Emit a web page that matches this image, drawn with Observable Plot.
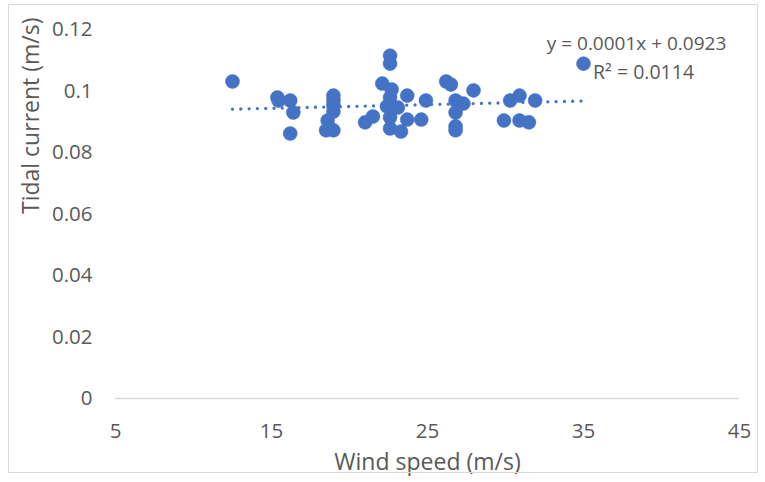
<!DOCTYPE html>
<html>
<head>
<meta charset="utf-8">
<script src="https://cdn.jsdelivr.net/npm/d3@7"></script>
<script src="https://cdn.jsdelivr.net/npm/@observablehq/plot@0.6"></script>
<style>
  html, body { margin: 0; padding: 0; background: #fff; }
  #wrap { position: relative; width: 765px; height: 482px; overflow: hidden; }
  #border { position: absolute; left: 8px; top: 4px; width: 748px; height: 467px; border: 1px solid #d9d9d9; pointer-events: none; }
  svg { font-family: "Open Sans", sans-serif; }
</style>
</head>
<body>
<div id="wrap"><div id="border"></div></div>
<script>
const windSpeed = [12.5, 15.38, 15.45, 16.2, 16.4, 16.2, 18.97, 18.97, 18.97, 18.97, 18.6, 18.5, 18.97,
  21.0, 21.5, 22.1, 22.6, 22.6, 22.7, 22.6, 22.4, 22.6, 22.6, 22.6, 23.1, 23.3, 23.7, 23.7, 24.6, 24.9,
  26.2, 26.5, 26.8, 27.3, 26.8, 26.8, 26.8, 27.95, 29.9, 30.3, 30.9, 30.9, 31.5, 31.9, 35.0];
const tidalCurrent = [0.1031, 0.0979, 0.0969, 0.0969, 0.0930, 0.0862, 0.0985, 0.0969, 0.0953, 0.0933, 0.0904, 0.0872, 0.0872,
  0.0898, 0.0917, 0.1024, 0.1115, 0.1089, 0.1005, 0.0979, 0.0950, 0.0946, 0.0914, 0.0878, 0.0946, 0.0868, 0.0985, 0.0907, 0.0907, 0.0969,
  0.1031, 0.1021, 0.0969, 0.0959, 0.0930, 0.0885, 0.0872, 0.1002, 0.0904, 0.0969, 0.0985, 0.0904, 0.0898, 0.0969, 0.1089];
const xTicks = [5, 15, 25, 35, 45];
const yTicks = [0, 0.02, 0.04, 0.06, 0.08, 0.1, 0.12];
const xTitle = "Wind speed (m/s)";
const yTitle = "Tidal current (m/s)";
const equationText = "y = 0.0001x + 0.0923";
const r2Text = "R² = 0.0114";

const points = windSpeed.map((w, i) => ({wind: w, tide: tidalCurrent[i]}));
const blue = "#4472C4";
const grey = "#595959";

const chart = Plot.plot({
  width: 765,
  height: 482,
  marginLeft: 115,
  marginRight: 26,
  marginTop: 29,
  marginBottom: 84,
  style: {fontFamily: "'Open Sans', sans-serif", background: "transparent"},
  x: {domain: [5, 45], ticks: xTicks},
  y: {domain: [0, 0.12], ticks: yTicks},
  marks: [
    Plot.ruleY([0], {stroke: "#d9d9d9", strokeWidth: 1.3}),
    Plot.axisX({ticks: xTicks, tickSize: 0, tickPadding: 25, fontSize: 20.5, color: grey, label: null, tickFormat: d => String(d)}),
    Plot.axisY({ticks: yTicks, tickSize: 0, tickPadding: 23, fontSize: 20.5, color: grey, label: null, tickFormat: d => String(+d.toFixed(2))}),
    Plot.linearRegressionY(points, {x: "wind", y: "tide", ci: 0, stroke: blue, strokeWidth: 3.3, strokeDasharray: "0 8.3", strokeLinecap: "round"}),
    Plot.dot(points, {x: "wind", y: "tide", r: 7, fill: blue, stroke: blue, strokeWidth: 0.5}),
    Plot.text([equationText], {x: 38.4, y: 0.1153, fontSize: 19, fill: grey}),
    Plot.text([r2Text], {x: 38.85, y: 0.1059, fontSize: 19.5, fill: grey}),
    Plot.text([xTitle], {frameAnchor: "bottom", dy: 71, fontSize: 23, fill: grey}),
    Plot.text([yTitle], {frameAnchor: "left", dx: -84, rotate: -90, fontSize: 23, fill: grey})
  ]
});
document.getElementById("wrap").prepend(chart);
</script>
</body>
</html>
